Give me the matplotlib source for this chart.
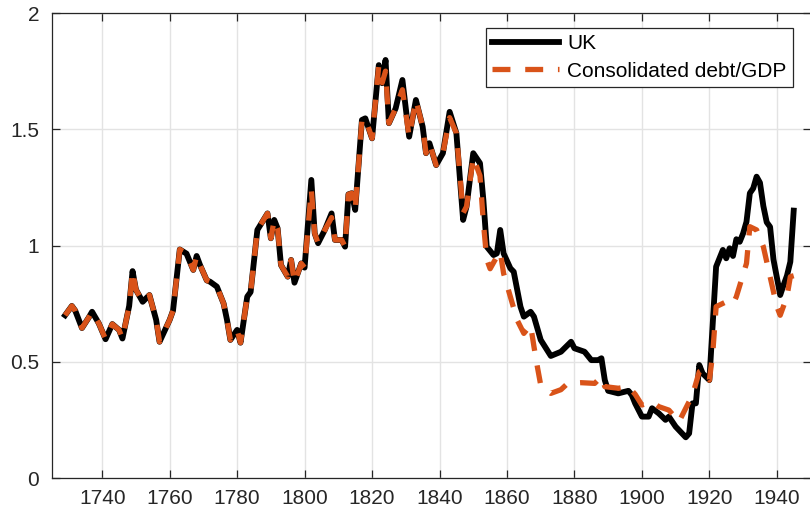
import matplotlib
matplotlib.use("Agg")
import matplotlib.pyplot as plt

OUT_FILE = "out.png"

# debt-to-GDP ratio, UK government debt
uk_years = [1729, 1731, 1732, 1734, 1736, 1737, 1739, 1741, 1743, 1745, 1746, 1748, 1749, 1750,
            1752, 1754, 1756, 1757, 1760, 1761, 1763, 1765, 1767, 1768, 1769, 1771, 1772, 1774,
            1776, 1777, 1778, 1780, 1781, 1783, 1784, 1786, 1789, 1790, 1791, 1792, 1793, 1795,
            1796, 1797, 1799, 1800, 1802, 1803, 1804, 1806, 1808, 1809, 1811, 1812, 1813, 1814,
            1815, 1817, 1818, 1820, 1822, 1823, 1824, 1825, 1827, 1829, 1831, 1833, 1835, 1836,
            1837, 1839, 1841, 1843, 1845, 1847, 1848, 1850, 1852, 1853, 1854, 1856, 1857, 1858,
            1859, 1861, 1862, 1864, 1865, 1867, 1868, 1870, 1873, 1876, 1879, 1880, 1883, 1885,
            1887, 1888, 1889, 1890, 1893, 1896, 1897, 1898, 1900, 1902, 1903, 1905, 1907, 1908,
            1910, 1913, 1914, 1915, 1916, 1917, 1918, 1920, 1921, 1922, 1924, 1925, 1926, 1927,
            1928, 1929, 1930, 1931, 1932, 1933, 1934, 1935, 1936, 1937, 1938, 1939, 1941, 1942,
            1943, 1944, 1945]
uk_debt = [0.70, 0.74, 0.72, 0.645, 0.69, 0.715, 0.665, 0.597, 0.662, 0.637, 0.60, 0.74, 0.89, 0.81,
           0.758, 0.787, 0.68, 0.586, 0.68, 0.72, 0.983, 0.965, 0.895, 0.955, 0.916, 0.85, 0.844, 0.823,
           0.75, 0.68, 0.594, 0.637, 0.582, 0.78, 0.80, 1.067, 1.138, 1.031, 1.11, 1.074, 0.916, 0.866,
           0.938, 0.84, 0.923, 0.905, 1.282, 1.052, 1.01, 1.067, 1.138, 1.024, 1.024, 0.995, 1.22, 1.225,
           1.153, 1.54, 1.547, 1.461, 1.776, 1.698, 1.798, 1.526, 1.59, 1.712, 1.468, 1.626, 1.511, 1.397,
           1.44, 1.346, 1.397, 1.575, 1.483, 1.11, 1.167, 1.397, 1.354, 1.196, 0.995, 0.959, 0.966, 1.067,
           0.966, 0.902, 0.887, 0.737, 0.694, 0.715, 0.694, 0.594, 0.525, 0.543, 0.586, 0.558, 0.543, 0.507,
           0.507, 0.515, 0.421, 0.375, 0.364, 0.375, 0.357, 0.321, 0.264, 0.264, 0.30, 0.278, 0.25, 0.264,
           0.221, 0.175, 0.192, 0.321, 0.321, 0.486, 0.45, 0.421, 0.665, 0.909, 0.981, 0.945, 0.988, 0.955,
           1.027, 1.016, 1.052, 1.102, 1.225, 1.246, 1.296, 1.27, 1.17, 1.10, 1.08, 0.94, 0.787, 0.83,
           0.87, 0.93, 1.15]

# consolidated debt/GDP
cons_years = [1729, 1731, 1732, 1734, 1736, 1737, 1739, 1741, 1743, 1745, 1746, 1748, 1749, 1750,
              1752, 1754, 1756, 1757, 1760, 1761, 1763, 1765, 1767, 1768, 1769, 1771, 1772, 1774,
              1776, 1777, 1778, 1780, 1781, 1783, 1784, 1786, 1789, 1790, 1791, 1792, 1793, 1795,
              1796, 1797, 1799, 1800, 1802, 1803, 1804, 1806, 1808, 1809, 1811, 1812, 1813, 1814,
              1815, 1817, 1818, 1820, 1822, 1823, 1824, 1825, 1827, 1829, 1831, 1833, 1835, 1836,
              1837, 1839, 1841, 1843, 1845, 1847, 1848, 1850, 1852, 1853, 1854, 1855, 1857, 1858,
              1859, 1861, 1863, 1865, 1867, 1868, 1869, 1870, 1873, 1876, 1878, 1882, 1886, 1888,
              1889, 1893, 1896, 1898, 1900, 1903, 1905, 1908, 1911, 1913, 1915, 1917, 1918, 1920,
              1921, 1922, 1925, 1927, 1928, 1931, 1932, 1934, 1936, 1938, 1940, 1941, 1943, 1944,
              1945]
cons_debt = [0.70, 0.74, 0.72, 0.645, 0.69, 0.715, 0.665, 0.597, 0.662, 0.637, 0.60, 0.74, 0.89, 0.81,
             0.758, 0.787, 0.68, 0.586, 0.68, 0.72, 0.983, 0.965, 0.895, 0.955, 0.916, 0.85, 0.844, 0.823,
             0.75, 0.68, 0.594, 0.637, 0.582, 0.78, 0.80, 1.067, 1.138, 1.031, 1.11, 1.074, 0.916, 0.866,
             0.938, 0.84, 0.923, 0.905, 1.24, 1.052, 1.01, 1.067, 1.12, 1.024, 1.024, 0.995, 1.22, 1.225,
             1.153, 1.54, 1.547, 1.461, 1.776, 1.70, 1.75, 1.526, 1.59, 1.67, 1.468, 1.626, 1.511, 1.397,
             1.44, 1.346, 1.397, 1.55, 1.483, 1.14, 1.167, 1.38, 1.30, 1.10, 0.94, 0.90, 0.952, 0.973,
             0.88, 0.78, 0.68, 0.622, 0.658, 0.565, 0.479, 0.40, 0.364, 0.38, 0.407, 0.41, 0.407, 0.436,
             0.393, 0.386, 0.393, 0.36, 0.314, 0.328, 0.307, 0.292, 0.242, 0.30, 0.357, 0.457, 0.465, 0.421,
             0.536, 0.737, 0.758, 0.748, 0.78, 0.923, 1.081, 1.067, 0.995, 0.866, 0.737, 0.70, 0.78, 0.866,
             0.87]

x_ticks = [1740, 1760, 1780, 1800, 1820, 1840, 1860, 1880, 1900, 1920, 1940]
y_ticks = [0, 0.5, 1, 1.5, 2]
y_labels = ["0", "0.5", "1", "1.5", "2"]

ORANGE = "#D95319"
AXIS_COLOR = "#262626"


def main():
    plt.rcParams["font.family"] = ["Liberation Sans", "DejaVu Sans"]

    fig = plt.figure(figsize=(8.1, 5.18), dpi=100)
    ax = fig.add_axes([0.0637, 0.0772, 0.937, 0.8977])

    ax.plot(uk_years, uk_debt, color="black", linewidth=4.2, label="UK",
            solid_joinstyle="round", zorder=3)
    ax.plot(cons_years, cons_debt, color=ORANGE, linewidth=3.8, label="Consolidated debt/GDP",
            linestyle=(0, (3.4, 2.8)), dash_capstyle="butt", zorder=4)

    ax.set_xlim(1725, 1950)
    ax.set_ylim(0, 2)
    ax.set_xticks(x_ticks)
    ax.set_yticks(y_ticks)
    ax.set_yticklabels(y_labels)

    ax.grid(True, color="#e3e3e3", linewidth=1.0)
    ax.set_axisbelow(True)

    ax.tick_params(direction="in", length=6, width=0.9, color=AXIS_COLOR,
                   labelcolor=AXIS_COLOR, labelsize=15, top=True, right=True)
    ax.tick_params(axis="x", pad=8)
    ax.tick_params(axis="y", pad=9)
    for side in ax.spines.values():
        side.set_color(AXIS_COLOR)
        side.set_linewidth(0.9)

    leg = ax.legend(loc="upper right", bbox_to_anchor=(0.9768, 0.9677), borderaxespad=0,
                    fontsize=15, handlelength=3.2, handletextpad=0.4, borderpad=0.3,
                    labelspacing=0.4, fancybox=False, framealpha=1, edgecolor=AXIS_COLOR)
    leg.get_frame().set_linewidth(0.9)

    fig.savefig(OUT_FILE, dpi=100)
    plt.close(fig)


if __name__ == "__main__":
    main()
